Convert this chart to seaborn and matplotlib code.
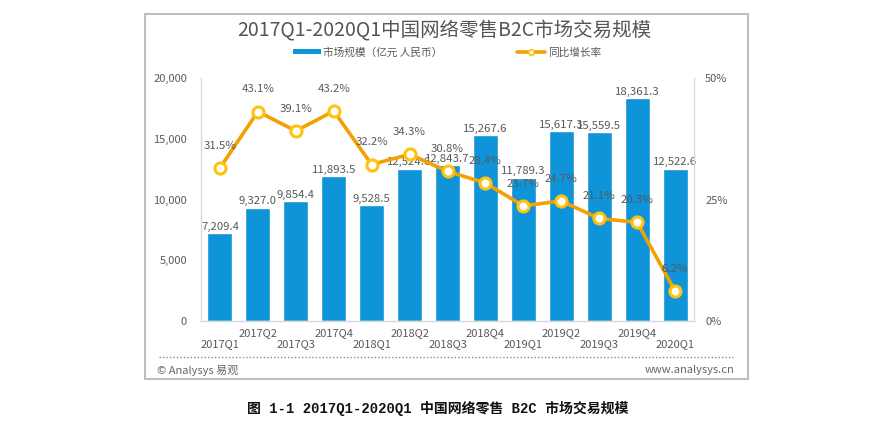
import matplotlib
matplotlib.use("Agg")
import matplotlib.pyplot as plt
import seaborn as sns
import pandas as pd
import numpy as np
from matplotlib.patches import Rectangle
from matplotlib.lines import Line2D
from matplotlib.ticker import FuncFormatter, MultipleLocator

# ---------------- data ----------------
quarters = ["2017Q1", "2017Q2", "2017Q3", "2017Q4",
            "2018Q1", "2018Q2", "2018Q3", "2018Q4",
            "2019Q1", "2019Q2", "2019Q3", "2019Q4", "2020Q1"]
market_size = [7209.4, 9327.0, 9854.4, 11893.5,
               9528.5, 12524.6, 12843.7, 15267.6,
               11789.3, 15617.3, 15559.5, 18361.3, 12522.6]
growth_pct = [31.5, 43.1, 39.1, 43.2,
              32.2, 34.3, 30.8, 28.4,
              23.7, 24.7, 21.1, 20.3, 6.2]

title_text = "2017Q1-2020Q1中国网络零售B2C市场交易规模"
legend_labels = ["市场规模（亿元 人民币）", "同比增长率"]
source_left = "© Analysys 易观"
source_right = "www.analysys.cn"
caption_text = "图 1-1 2017Q1-2020Q1 中国网络零售 B2C 市场交易规模"

# ---------------- style ----------------
BLUE = "#0f94da"
ORANGE = "#f2a100"
MARKER_EDGE = "#ffc20e"
TXT = "#595959"
SPINE = "#d9d9d9"

sns.set_theme(style="white")
plt.rcParams["font.family"] = ["Noto Sans CJK SC", "DejaVu Sans"]

df = pd.DataFrame({"quarter": quarters, "size": market_size, "growth": growth_pct})

W, H = 893, 421
fig = plt.figure(figsize=(W / 100, H / 100), dpi=100)
fig.patch.set_facecolor("white")

# outer frame
fig.add_artist(Rectangle((145 / W, 1 - 379 / H), 603 / W, 365 / H,
                         transform=fig.transFigure, fill=False,
                         edgecolor="#bdbdbd", linewidth=1.5))

ax = fig.add_axes([201 / W, 1 - 321 / H, 493 / W, 243 / H])
sns.barplot(data=df, x="quarter", y="size", color=BLUE, saturation=1,
            width=0.66, ax=ax)
ax.set_xlim(-0.5, len(quarters) - 0.5)
ax.set_ylim(0, 20000)
ax.yaxis.set_major_locator(MultipleLocator(5000))
ax.yaxis.set_major_formatter(FuncFormatter(lambda v, p: f"{v:,.0f}"))
ax.set_xlabel("")
ax.set_ylabel("")
ax.set_xticks(range(len(quarters)))
ax.set_xticklabels([q if i % 2 == 1 else "\n" + q for i, q in enumerate(quarters)],
                   linespacing=1.15)
ax.tick_params(axis="x", length=0, pad=5, labelsize=8, labelcolor=TXT)
ax.tick_params(axis="y", length=0, pad=10, labelsize=8, labelcolor=TXT)
for s in ["top", "right"]:
    ax.spines[s].set_visible(False)
for s in ["left", "bottom"]:
    ax.spines[s].set_color(SPINE)
    ax.spines[s].set_linewidth(1)

ax.bar_label(ax.containers[0], labels=[f"{v:,.1f}" for v in market_size],
             padding=1, fontsize=8.2, color=TXT)

ax2 = ax.twinx()
xpos = np.arange(len(quarters))
sns.lineplot(x=xpos, y=growth_pct, ax=ax2, color=ORANGE, linewidth=2.6,
             marker="o", markersize=8, markerfacecolor="white",
             markeredgecolor=MARKER_EDGE, markeredgewidth=2.2, zorder=5)
ax2.set_ylim(0, 50)
ax2.set_yticks([0, 25, 50])
ax2.yaxis.set_major_formatter(FuncFormatter(lambda v, p: f"{v:.0f}%"))
ax2.tick_params(axis="y", length=0, pad=8, labelsize=8, labelcolor=TXT)
ax2.set_ylabel("")
for s in ["top", "left", "bottom"]:
    ax2.spines[s].set_visible(False)
ax2.spines["right"].set_color(SPINE)
ax2.spines["right"].set_linewidth(1)
ax2.set_xlim(-0.5, len(quarters) - 0.5)

for x, g in zip(xpos, growth_pct):
    ax2.annotate(f"{g}%", (x, g), xytext=(0, 16), textcoords="offset points",
                 ha="center", va="center", fontsize=8.2, color=TXT, zorder=6)

# title
fig.text(444 / W, 1 - 30 / H, title_text, ha="center", va="center",
         fontsize=14, color="#555555", fontweight="light")

# legend
handles = [Rectangle((0, 0), 1, 1, facecolor=BLUE, edgecolor="none"),
           Line2D([0], [0], color=ORANGE, linewidth=2.6, marker="o", markersize=4,
                  markerfacecolor="white", markeredgecolor=MARKER_EDGE,
                  markeredgewidth=1.2)]
leg = fig.legend(handles, legend_labels, loc="center", bbox_to_anchor=(447 / W, 1 - 52 / H),
                 ncol=2, frameon=False, fontsize=7.7, handlelength=2.6,
                 handleheight=0.45, handletextpad=0.25, columnspacing=7.0,
                 borderpad=0)
for t in leg.get_texts():
    t.set_color(TXT)

# dotted separator and footer
fig.add_artist(Line2D([159 / W, 733 / W], [1 - 357 / H, 1 - 357 / H],
                      transform=fig.transFigure, color="#8c8c8c",
                      linestyle=(0, (1, 1.5)), linewidth=1))
fig.text(157 / W, 1 - 370 / H, source_left, ha="left", va="center",
         fontsize=8, color="#666666")
fig.text(734 / W, 1 - 370 / H, source_right, ha="right", va="center",
         fontsize=8, color="#666666")

# caption
fig.text(438 / W, 1 - 408 / H, caption_text, ha="center", va="center",
         fontsize=10, fontweight="bold", color="#111111",
         family=["Liberation Mono", "Noto Sans CJK SC"])

fig.savefig("out.png", dpi=100, facecolor="white")
